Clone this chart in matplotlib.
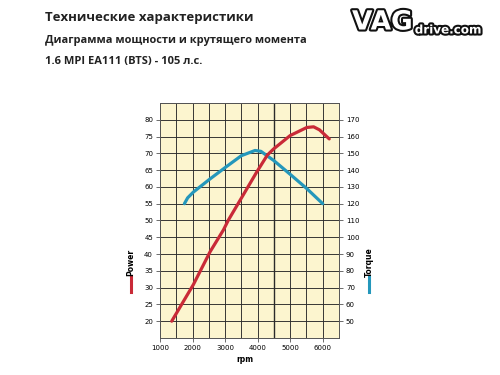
#!/usr/bin/env python3
"""
Power and torque curve for 1.6 MPI EA111 (BTS) - 105 hp.
"""

import matplotlib
matplotlib.use("Agg")
import matplotlib.pyplot as plt
import matplotlib.patheffects as pe

# Power curve (left axis, kW)
power_rpm = [1360, 2025, 2540, 2950, 3100, 3460, 3970, 4300, 4490, 5000, 5510, 5720, 5900, 6200]
power_kw = [20.0, 30.9, 40.7, 47.2, 50.1, 56.0, 64.4, 69.5, 71.3, 75.3, 77.7, 77.9, 77.0, 74.3]

# Torque curve (right axis, Nm)
torque_rpm = [1750, 1850, 2030, 2540, 3000, 3500, 3920, 4100, 4490, 5000, 5510, 6000]
torque_nm = [120.0, 123.5, 127.0, 134.8, 141.5, 148.6, 151.7, 151.2, 145.8, 137.5, 129.0, 120.0]

rpm_ticks = [1000, 2000, 3000, 4000, 5000, 6000]
power_ticks = [20, 25, 30, 35, 40, 45, 50, 55, 60, 65, 70, 75, 80]
torque_ticks = [50, 60, 70, 80, 90, 100, 110, 120, 130, 140, 150, 160, 170]

RED = "#c92a37"
BLUE = "#2497bb"
tick_font = ["Liberation Sans Narrow", "DejaVu Sans"]

fig = plt.figure(figsize=(5, 3.75), dpi=100)
fig.patch.set_facecolor("white")

ax = fig.add_axes([0.32, 0.0987, 0.358, 0.6267])
ax.set_facecolor("#fcf5cf")
ax.set_xlim(1000, 6500)
ax.set_ylim(15, 85)

# grid every 500 rpm and every 5 kW
for x in range(1000, 6501, 500):
    ax.axvline(x, color="#2a2a2a", lw=1.0 if x == 4500 else 0.65, zorder=1)
for y in range(15, 86, 5):
    ax.axhline(y, color="#2a2a2a", lw=0.65, zorder=1)

ax2 = ax.twinx()
ax2.set_ylim(40, 180)
ax2.plot(torque_rpm, torque_nm, color=BLUE, lw=2.3, solid_capstyle="round", zorder=3)

# power drawn last so it sits on top of torque
ax3 = ax.twinx()
ax3.set_ylim(15, 85)
ax3.axis("off")
ax3.plot(power_rpm, power_kw, color=RED, lw=2.3, solid_capstyle="round", zorder=4)

ax.set_xticks(rpm_ticks)
ax.set_yticks(power_ticks)
ax2.set_yticks(torque_ticks)
for a in (ax, ax2):
    a.tick_params(length=3, width=0.6, color="#555555", labelsize=5, pad=2)
    for lbl in a.get_xticklabels() + a.get_yticklabels():
        lbl.set_family(tick_font)
    for s in a.spines.values():
        s.set_color("#555555")
        s.set_linewidth(0.6)

fig.text(0.49, 0.04, "rpm", fontsize=5.5, fontweight="bold", family=tick_font, ha="center", va="center")

# axis legends
fig.text(0.262, 0.30, "Power", rotation=90, fontsize=5.5, fontweight="bold",
         family=tick_font, ha="center", va="center")
fig.lines.append(plt.Line2D([0.262, 0.262], [0.222, 0.265], transform=fig.transFigure,
                            color=RED, lw=2.2))
fig.text(0.738, 0.30, "Torque", rotation=90, fontsize=5.5, fontweight="bold",
         family=tick_font, ha="center", va="center")
fig.lines.append(plt.Line2D([0.738, 0.738], [0.222, 0.265], transform=fig.transFigure,
                            color=BLUE, lw=2.2))

# headings
fig.text(0.09, 0.952, "Технические характеристики", fontsize=9.5, fontweight="bold",
         family="Open Sans", color="#222222", va="center")
fig.text(0.09, 0.893, "Диаграмма мощности и крутящего момента", fontsize=7.9, fontweight="bold",
         family="Open Sans", color="#222222", va="center")
fig.text(0.09, 0.837, "1.6 MPI EA111 (BTS) - 105 л.с.", fontsize=8.0, fontweight="bold",
         family="Open Sans", color="#222222", va="center")

# logo
fig.text(0.704, 0.940, "VAG", fontsize=19, fontweight="bold", family="DejaVu Sans",
         color="white", va="center", ha="left",
         path_effects=[pe.withStroke(linewidth=3.0, foreground="#111111")])
fig.text(0.896, 0.920, "drive.com", fontsize=8.6, fontweight="bold", family="DejaVu Sans",
         color="white", va="center", ha="center",
         path_effects=[pe.withStroke(linewidth=3.0, foreground="#111111")])

plt.savefig("out.png", dpi=100)
